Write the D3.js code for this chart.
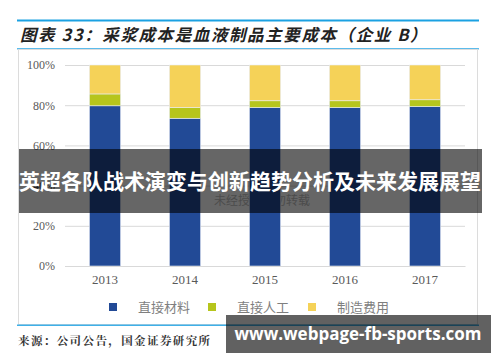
<!DOCTYPE html>
<html>
<head>
<meta charset="utf-8">
<script src="https://cdn.jsdelivr.net/npm/d3@7"></script>
<style>
  html, body { margin: 0; padding: 0; background: #fff; }
  svg { display: block; }
</style>
</head>
<body>
<div class="costChart"></div>
<script>
// data (shares in %)
const years = ['2013', '2014', '2015', '2016', '2017'];
const material = [79.7, 73.5, 78.8, 78.8, 79.3];   // 直接材料
const labour = [5.9, 5.3, 3.4, 3.4, 3.4];          // 直接人工
const overhead = [14.4, 21.2, 17.8, 17.8, 17.3];   // 制造费用
const seriesNames = ['直接材料', '直接人工', '制造费用'];
const yTicks = [0, 20, 40, 60, 80, 100];

const title = '图表 33：采浆成本是血液制品主要成本（企业 B）';
const source = '来源：公司公告，国金证券研究所';
const banner = '英超各队战术演变与创新趋势分析及未来发展展望';
const siteMark = 'www.webpage-fb-sports.com';

const colors = ['#224a96', '#b6c51c', '#f5d258'];
const cjk = '"Noto Sans CJK SC", sans-serif';
const serif = '"Liberation Serif", "DejaVu Serif", serif';

const W = 500, H = 362;
const svg = d3.select('.costChart').append('svg')
    .attr('width', W)
    .attr('height', H);

// header lines + title
svg.append('rect').attr('x', 17).attr('y', 19.5).attr('width', 462).attr('height', 2).attr('fill', '#1ba1e2');
svg.append('text')
    .attr('x', 20).attr('y', 41)
    .attr('font-family', cjk)
    .attr('font-size', 16.5)
    .attr('letter-spacing', 1.6)
    .attr('font-style', 'italic')
    .attr('font-weight', 'bold')
    .attr('fill', '#222')
    .text(title);
svg.append('rect').attr('x', 17).attr('y', 48).attr('width', 462).attr('height', 1.5).attr('fill', '#5cbbeb');

// chart frame
svg.append('rect')
    .attr('x', 18.5).attr('y', 49.5)
    .attr('width', 459).attr('height', 275)
    .attr('fill', 'none')
    .attr('stroke', '#dcdcdc');
svg.append('rect').attr('x', 17).attr('y', 324.5).attr('width', 462).attr('height', 1.5).attr('fill', '#3fb0e8');

// plot
const plot = {left: 65, right: 465, top: 65, bottom: 266};
const x = d3.scaleBand().domain(years).range([plot.left, plot.right]).paddingInner(0.61).paddingOuter(0.305);
const y = d3.scaleLinear().domain([0, 100]).range([plot.bottom, plot.top]);

const yAxis = svg.append('g')
    .attr('transform', 'translate(' + plot.left + ',0)')
    .call(d3.axisLeft(y).tickValues(yTicks).tickFormat(d => d + '%').tickSize(-(plot.right - plot.left)).tickPadding(10));
yAxis.select('.domain').remove();
yAxis.selectAll('.tick line').attr('stroke', '#d9d9d9').attr('stroke-width', 1);
yAxis.selectAll('text')
    .attr('font-family', serif)
    .attr('font-size', 12)
    .attr('fill', '#595959');

// watermark behind the banner
svg.append('text')
    .attr('x', 262).attr('y', 205)
    .attr('text-anchor', 'middle')
    .attr('font-family', cjk)
    .attr('font-size', 12)
    .attr('fill', '#bdbdbd')
    .text('未经授权请勿转载');

// stacked bars
const rows = years.map((yr, i) => ({year: yr, v: [material[i], labour[i], overhead[i]]}));
rows.forEach(row => {
    let base = 0;
    row.v.forEach((val, k) => {
        svg.append('rect')
            .attr('x', x(row.year))
            .attr('y', y(base + val))
            .attr('width', x.bandwidth())
            .attr('height', y(base) - y(base + val))
            .attr('fill', colors[k])
            .attr('stroke', '#e8edf7')
            .attr('stroke-width', 0.6);
        base += val;
    });
});

const xAxis = svg.append('g')
    .attr('transform', 'translate(0,' + plot.bottom + ')')
    .call(d3.axisBottom(x).tickSize(0).tickPadding(9));
xAxis.select('.domain').attr('stroke', '#d9d9d9');
xAxis.selectAll('text')
    .attr('font-family', serif)
    .attr('font-size', 13)
    .attr('fill', '#595959');

// legend
const legendX = [109, 208, 308];
seriesNames.forEach((name, k) => {
    const g = svg.append('g').attr('transform', 'translate(' + legendX[k] + ',307)');
    g.append('rect').attr('x', 0).attr('y', -4).attr('width', 8).attr('height', 8).attr('fill', colors[k]);
    g.append('text')
        .attr('x', 29).attr('y', 5)
        .attr('font-family', cjk)
        .attr('font-size', 13)
        .attr('fill', '#7f7f7f')
        .text(name);
});

// source line
svg.append('text')
    .attr('x', 18).attr('y', 345)
    .attr('font-family', '"Noto Serif CJK SC", ' + cjk)
    .attr('font-size', 11.5)
    .attr('letter-spacing', 1.4)
    .attr('font-weight', 'bold')
    .attr('fill', '#333')
    .text(source);

// banner overlay
svg.append('rect')
    .attr('x', 19).attr('y', 149)
    .attr('width', 463).attr('height', 64)
    .attr('fill', 'rgba(0,0,0,0.6)');
svg.append('text')
    .attr('x', 250).attr('y', 189)
    .attr('text-anchor', 'middle')
    .attr('font-family', cjk)
    .attr('font-size', 21)
    .attr('font-weight', 'bold')
    .attr('fill', '#fff')
    .text(banner);

// site mark overlay
svg.append('rect')
    .attr('x', 226).attr('y', 315)
    .attr('width', 265).attr('height', 38)
    .attr('fill', 'rgba(0,0,0,0.62)');
svg.append('text')
    .attr('x', 358).attr('y', 340)
    .attr('text-anchor', 'middle')
    .attr('font-family', '"Open Sans", "DejaVu Sans", sans-serif')
    .attr('font-size', 17)
    .attr('font-weight', 'bold')
    .attr('fill', '#fff')
    .text(siteMark);
</script>
</body>
</html>
